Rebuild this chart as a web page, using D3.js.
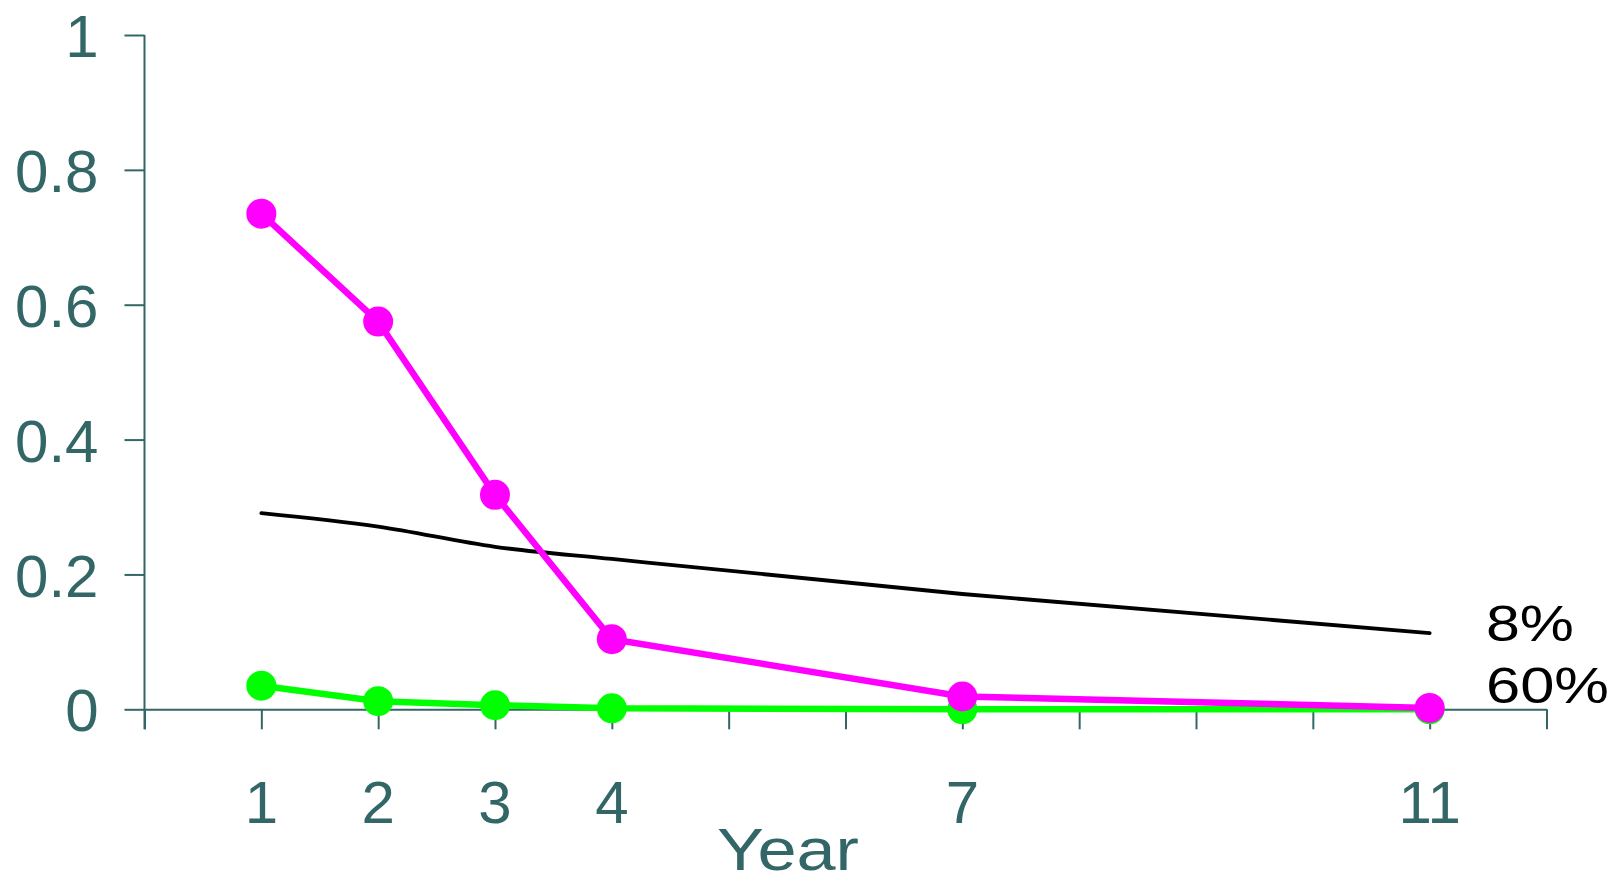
<!DOCTYPE html>
<html>
<head>
<meta charset="utf-8">
<script src="https://cdn.jsdelivr.net/npm/d3@7"></script>
<style>
  html, body { margin: 0; padding: 0; background: #ffffff; }
  svg { display: block; }
</style>
</head>
<body>
<svg id="chart" width="1612" height="882"></svg>
<script>
// ---- data ----
const years = [1, 2, 3, 4, 7, 11];
const magentaValues = [0.735, 0.575, 0.318, 0.104, 0.019, 0.002];
const greenValues = [0.035, 0.012, 0.006, 0.0015, 0.0, 0.0];
const blackValues = [0.291, 0.271, 0.241, 0.223, 0.171, 0.113];
const xTickValues = [0, 1, 2, 3, 4, 5, 6, 7, 8, 9, 10, 11, 12];
const xTickLabels = ["1", "2", "3", "4", "7", "11"];
const yTickValues = [0, 0.2, 0.4, 0.6, 0.8, 1];
const yTickLabels = ["0", "0.2", "0.4", "0.6", "0.8", "1"];
const endLabels = ["8%", "60%"];
const xTitle = "Year";

// ---- layout ----
const axisColor = "#336666";
const font = "'Liberation Sans', Arial, sans-serif";
const svg = d3.select("#chart");

const x = d3.scaleLinear().domain([0, 12]).range([144.5, 1546.5]);
const y = d3.scaleLinear().domain([0, 1]).range([709.3, 35]);

// x axis
const xAxis = d3.axisBottom(x).tickValues(xTickValues).tickSize(20).tickSizeOuter(0).tickFormat("");
const gx = svg.append("g").attr("transform", `translate(0,${y(0)})`).call(xAxis);
gx.select(".domain").attr("stroke", axisColor).attr("stroke-width", 2);
gx.selectAll(".tick line").attr("stroke", axisColor).attr("stroke-width", 2);

// x tick labels
svg.append("g").selectAll("text").data(years).join("text")
  .attr("x", d => x(d))
  .attr("y", 822.5)
  .attr("text-anchor", "middle")
  .attr("font-family", font)
  .attr("font-size", 60)
  .attr("fill", axisColor)
  .text((d, i) => xTickLabels[i]);

// y axis
const yAxis = d3.axisLeft(y).tickValues(yTickValues).tickSize(20).tickSizeOuter(0)
  .tickFormat((d, i) => yTickLabels[i]).tickPadding(26);
const gy = svg.append("g").attr("transform", `translate(${x(0)},0)`).call(yAxis);
gy.select(".domain").attr("stroke", axisColor).attr("stroke-width", 2)
  .attr("d", `M0,${y(1)}V${y(0) + 20}`);
gy.selectAll(".tick line").attr("stroke", axisColor).attr("stroke-width", 2);
gy.selectAll(".tick text")
  .attr("font-family", font)
  .attr("font-size", 60)
  .attr("fill", axisColor)
  .attr("dy", "0.36em");

// x title
svg.append("text")
  .attr("x", 717)
  .attr("y", 870)
  .attr("font-family", font)
  .attr("font-size", 60)
  .attr("fill", axisColor)
  .attr("textLength", 142).attr("lengthAdjust", "spacingAndGlyphs")
  .text(xTitle);

// lines
const line = d3.line().x(d => x(d[0])).y(d => y(d[1]));
const smooth = d3.line().x(d => x(d[0])).y(d => y(d[1])).curve(d3.curveMonotoneX);

svg.append("path")
  .datum(years.map((yr, i) => [yr, blackValues[i]]))
  .attr("d", smooth)
  .attr("fill", "none")
  .attr("stroke", "#000000")
  .attr("stroke-width", 3.8)
  .attr("stroke-linecap", "round");

function series(values, color) {
  const pts = years.map((yr, i) => [yr, values[i]]);
  svg.append("path").datum(pts).attr("d", line)
    .attr("fill", "none").attr("stroke", color).attr("stroke-width", 6.5);
  svg.append("g").selectAll("circle").data(pts).join("circle")
    .attr("cx", d => x(d[0])).attr("cy", d => y(d[1])).attr("r", 15)
    .attr("fill", color);
}
series(greenValues, "#00ff00");
series(magentaValues, "#ff00ff");

// end labels
svg.append("text")
  .attr("x", 1486).attr("y", 641)
  .attr("font-family", font).attr("font-size", 50)
  .attr("fill", "#000000")
  .attr("textLength", 88).attr("lengthAdjust", "spacingAndGlyphs")
  .text(endLabels[0]);
svg.append("text")
  .attr("x", 1486).attr("y", 703)
  .attr("font-family", font).attr("font-size", 50)
  .attr("fill", "#000000")
  .attr("textLength", 123).attr("lengthAdjust", "spacingAndGlyphs")
  .text(endLabels[1]);
</script>
</body>
</html>
